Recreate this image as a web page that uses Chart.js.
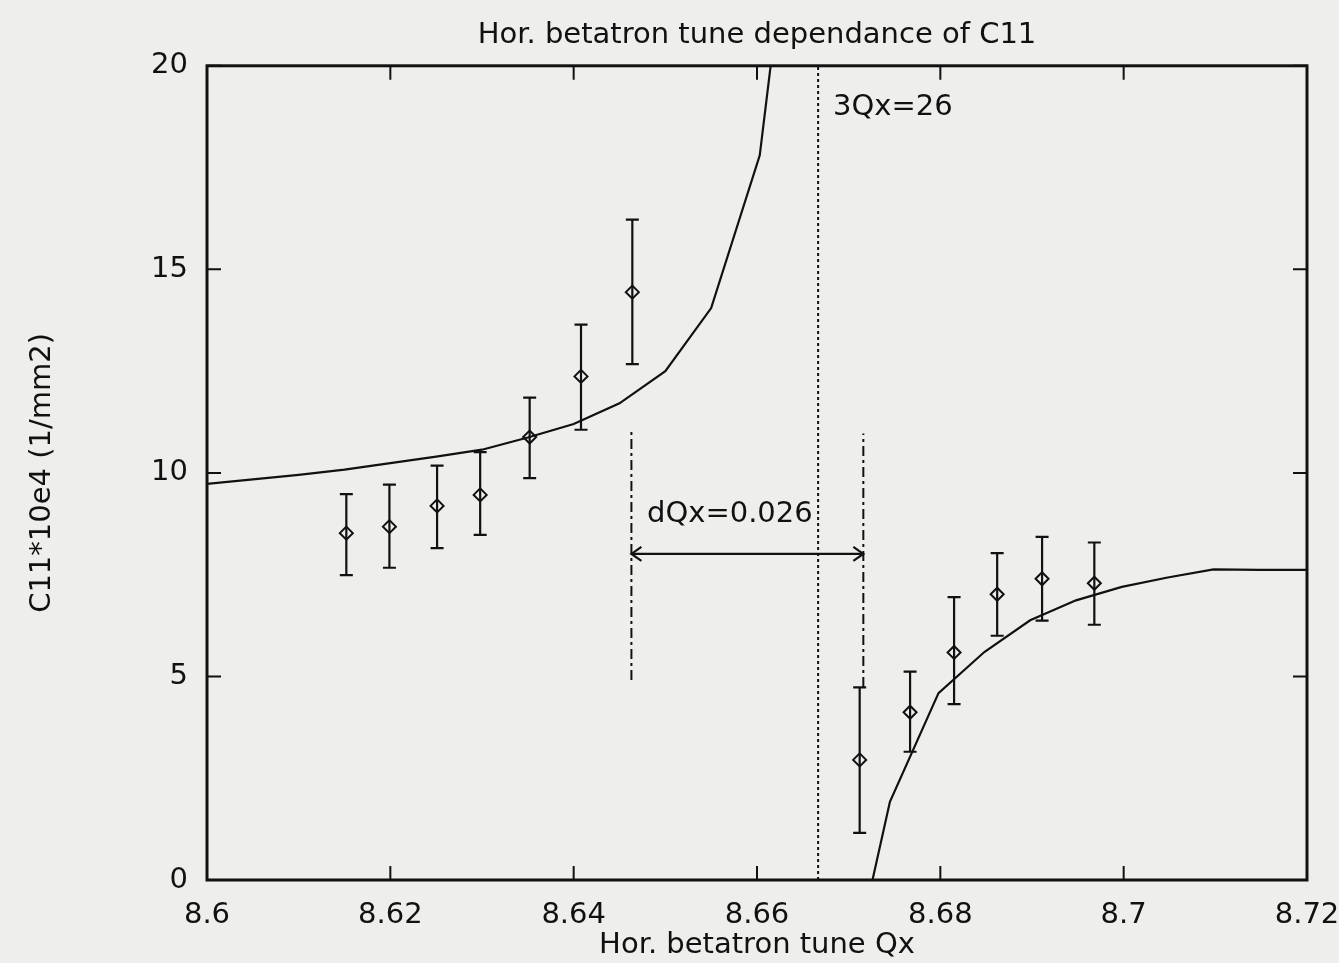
<!DOCTYPE html>
<html>
<head>
<meta charset="utf-8">
<script src="https://cdn.jsdelivr.net/npm/chart.js@4.4.1/dist/chart.umd.min.js"></script>
<style>
  html, body { margin: 0; padding: 0; background: #eeeeec; }
  canvas { display: block; }
</style>
</head>
<body>
<canvas id="c11-chart" width="1339" height="963"></canvas>
<script>
// measured points (tune, C11*1e4) with error bar ends
const measQx = [8.6152, 8.6199, 8.6251, 8.6298, 8.6352, 8.6408, 8.6464, 8.6712, 8.6767, 8.6815, 8.6862, 8.6911, 8.6968];
const measC11 = [8.52, 8.68, 9.19, 9.46, 10.88, 12.37, 14.44, 2.95, 4.12, 5.59, 7.02, 7.40, 7.29];
const errHigh = [9.48, 9.71, 10.18, 10.51, 11.85, 13.64, 16.22, 4.73, 5.12, 6.95, 8.03, 8.43, 8.29];
const errLow = [7.49, 7.67, 8.15, 8.48, 9.87, 11.06, 12.67, 1.16, 3.15, 4.32, 6.00, 6.37, 6.27];

// theory curve, below the resonance
const leftQx = [8.600, 8.605, 8.610, 8.615, 8.620, 8.625, 8.630, 8.635, 8.640, 8.645, 8.650, 8.655, 8.6603, 8.665];
const leftC11 = [9.73, 9.84, 9.95, 10.08, 10.24, 10.40, 10.57, 10.87, 11.20, 11.71, 12.50, 14.05, 17.80, 26.5];

// theory curve, above the resonance
const rightQx = [8.6695, 8.6745, 8.6798, 8.6848, 8.6898, 8.6948, 8.6998, 8.7048, 8.7098, 8.7148, 8.7200];
const rightC11 = [-3.13, 1.92, 4.59, 5.60, 6.38, 6.87, 7.20, 7.43, 7.63, 7.62, 7.62];

// resonance and the dQx marker
const resQx = 26 / 3;
const dqLeftQx = 8.6463;
const dqRightQx = 8.6716;
const dqLeftSpan = [4.91, 11.01];
const dqRightSpan = [4.74, 10.97];
const arrowC11 = 8.01;

const xTicks = { min: 8.6, max: 8.72, step: 0.02 };
const yTicks = { min: 0, max: 20, step: 5 };

const labelRes = { text: "3Qx=26", x: 8.6683, y: 18.97 };
const labelDq = { text: "dQx=0.026", x: 8.6480, y: 8.97 };

const ink = "#111111";
const fontFamily = "'DejaVu Sans', sans-serif";

const toPts = (xs, ys) => xs.map((q, i) => ({ x: q, y: ys[i] }));

// fond, barres d'erreur, flèches, cadre, graduations internes
const overlayPlugin = {
  id: "overlay",
  beforeDraw(chart) {
    const ctx = chart.ctx;
    ctx.save();
    ctx.fillStyle = "#eeeeec";
    ctx.fillRect(0, 0, chart.width, chart.height);
    ctx.restore();
  },
  afterDatasetsDraw(chart) {
    const { ctx, chartArea: a, scales: { x, y } } = chart;
    ctx.save();
    ctx.strokeStyle = ink;
    ctx.fillStyle = ink;
    ctx.lineWidth = 2.2;

    measQx.forEach((q, i) => {
      const px = x.getPixelForValue(q);
      const top = y.getPixelForValue(errHigh[i]);
      const bot = y.getPixelForValue(errLow[i]);
      ctx.beginPath();
      ctx.moveTo(px, top);
      ctx.lineTo(px, bot);
      ctx.moveTo(px - 6.5, top);
      ctx.lineTo(px + 6.5, top);
      ctx.moveTo(px - 6.5, bot);
      ctx.lineTo(px + 6.5, bot);
      ctx.stroke();
    });

    // arrow heads
    const ay = y.getPixelForValue(arrowC11);
    const ax1 = x.getPixelForValue(dqLeftQx);
    const ax2 = x.getPixelForValue(dqRightQx);
    ctx.beginPath();
    ctx.moveTo(ax1 + 10, ay - 7);
    ctx.lineTo(ax1, ay);
    ctx.lineTo(ax1 + 10, ay + 7);
    ctx.moveTo(ax2 - 10, ay - 7);
    ctx.lineTo(ax2, ay);
    ctx.lineTo(ax2 - 10, ay + 7);
    ctx.stroke();

    // frame
    ctx.lineWidth = 3;
    ctx.strokeRect(a.left, a.top, a.width, a.height);

    // inner ticks on all four sides
    ctx.lineWidth = 2;
    ctx.beginPath();
    x.ticks.forEach((t) => {
      const px = x.getPixelForValue(t.value);
      ctx.moveTo(px, a.bottom);
      ctx.lineTo(px, a.bottom - 14);
      ctx.moveTo(px, a.top);
      ctx.lineTo(px, a.top + 14);
    });
    y.ticks.forEach((t) => {
      const py = y.getPixelForValue(t.value);
      ctx.moveTo(a.left, py);
      ctx.lineTo(a.left + 14, py);
      ctx.moveTo(a.right, py);
      ctx.lineTo(a.right - 14, py);
    });
    ctx.stroke();

    // annotations
    ctx.font = "29px " + fontFamily;
    ctx.textBaseline = "middle";
    ctx.textAlign = "left";
    [labelRes, labelDq].forEach((l) => {
      ctx.fillText(l.text, x.getPixelForValue(l.x), y.getPixelForValue(l.y));
    });
    ctx.restore();
  },
};

const lineStyle = {
  showLine: true,
  borderColor: ink,
  borderWidth: 2.2,
  pointRadius: 0,
  tension: 0,
  fill: false,
};

const ctx = document.getElementById("c11-chart").getContext("2d");
const chart = new Chart(ctx, {
  type: "scatter",
  data: {
    datasets: [
      { ...lineStyle, label: "theory below", data: toPts(leftQx, leftC11) },
      { ...lineStyle, label: "theory above", data: toPts(rightQx, rightC11) },
      {
        ...lineStyle,
        label: "3Qx=26",
        borderWidth: 2,
        borderDash: [3, 3],
        data: [{ x: resQx, y: yTicks.min }, { x: resQx, y: yTicks.max }],
      },
      {
        ...lineStyle,
        label: "dQx left",
        borderWidth: 2,
        borderDash: [10, 4, 3, 4],
        data: [{ x: dqLeftQx, y: dqLeftSpan[0] }, { x: dqLeftQx, y: dqLeftSpan[1] }],
      },
      {
        ...lineStyle,
        label: "dQx right",
        borderWidth: 2,
        borderDash: [10, 4, 3, 4],
        data: [{ x: dqRightQx, y: dqRightSpan[0] }, { x: dqRightQx, y: dqRightSpan[1] }],
      },
      {
        ...lineStyle,
        label: "dQx arrow",
        data: [{ x: dqLeftQx, y: arrowC11 }, { x: dqRightQx, y: arrowC11 }],
      },
      {
        label: "measured",
        data: toPts(measQx, measC11),
        pointStyle: "rectRot",
        pointRadius: 6.5,
        pointBorderWidth: 2,
        borderColor: ink,
        backgroundColor: "rgba(0,0,0,0)",
      },
    ],
  },
  options: {
    responsive: false,
    animation: false,
    layout: { padding: { left: 0, right: 32, top: 0, bottom: 0 } },
    plugins: {
      legend: { display: false },
      tooltip: { enabled: false },
      title: {
        display: true,
        text: "Hor. betatron tune dependance of C11",
        fullSize: false,
        color: ink,
        font: { family: fontFamily, size: 29, weight: "normal" },
        padding: { top: 18, bottom: 13 },
      },
    },
    scales: {
      x: {
        type: "linear",
        min: xTicks.min,
        max: xTicks.max,
        grid: { display: false, drawTicks: false },
        border: { display: false },
        ticks: {
          stepSize: xTicks.step,
          padding: 18,
          color: ink,
          maxRotation: 0,
          font: { family: fontFamily, size: 29 },
          callback: (v) => Number(v.toFixed(2)).toString(),
        },
        title: {
          display: true,
          text: "Hor. betatron tune Qx",
          color: ink,
          font: { family: fontFamily, size: 29 },
          padding: { top: 0, bottom: 0 },
        },
        afterFit: (s) => {
          s.height = 83;
          s.paddingLeft = 0;
          s.paddingRight = 0;
        },
      },
      y: {
        min: yTicks.min,
        max: yTicks.max,
        grid: { display: false, drawTicks: false },
        border: { display: false },
        ticks: {
          stepSize: yTicks.step,
          padding: 19,
          color: ink,
          font: { family: fontFamily, size: 29 },
        },
        title: {
          display: true,
          text: "C11*10e4 (1/mm2)",
          color: ink,
          font: { family: fontFamily, size: 29 },
          padding: { top: 25, bottom: 0 },
        },
        afterFit: (s) => {
          s.width = 207;
          s.paddingTop = 0;
          s.paddingBottom = 0;
        },
      },
    },
  },
  plugins: [overlayPlugin],
});
</script>
</body>
</html>
